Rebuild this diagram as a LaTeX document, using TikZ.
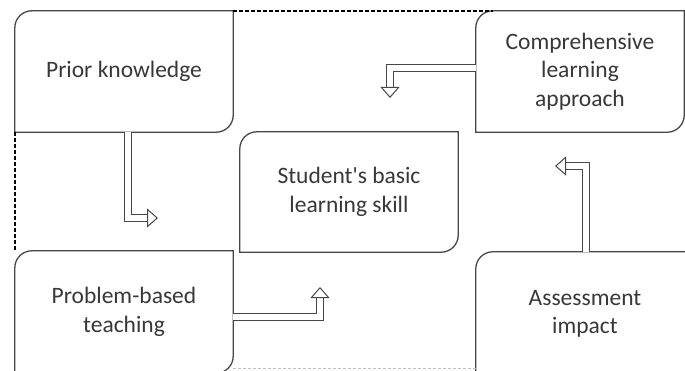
\documentclass[tikz,border=0pt]{standalone}
\usepackage{fontspec}
\setmainfont{Carlito}[Ligatures=TeXOff]
\usetikzlibrary{arrows.meta,calc}
\definecolor{edge}{HTML}{474747}
\definecolor{txt}{HTML}{383838}
\tikzset{
  box/.style={minimum width=218pt, minimum height=121pt, inner sep=0pt, align=center,
    text=txt, font=\fontsize{23.5}{28.5}\selectfont},
  boxline/.style={draw=edge, line width=1.3pt},
  dblarrow/.style={draw=edge, line width=1pt, double=white, double distance=6.5pt,
    -{Triangle[open, length=11pt, width=19pt, line width=1pt]}},
  framedash/.style={dash pattern=on 3.5pt off 2.5pt, line width=2pt, draw=black},
  framefaint/.style={dash pattern=on 3pt off 2pt, line width=1pt, draw=black!25},
}
\newcommand\cornerbox[1]{%
  \draw[boxline] (#1.north east) -- ([xshift=17pt]#1.north west)
    .. controls ([xshift=7.6pt]#1.north west) and ([yshift=-7.6pt]#1.north west)
    .. ([yshift=-17pt]#1.north west)
    -- (#1.south west) -- ([xshift=-17pt]#1.south east)
    .. controls ([xshift=-7.6pt]#1.south east) and ([yshift=7.6pt]#1.south east)
    .. ([yshift=17pt]#1.south east) -- cycle;}
\begin{document}
\begin{tikzpicture}[x=1pt,y=-1pt]
\useasboundingbox (0,0) rectangle (685,371);
\fill[white] (0,0) rectangle (685,371);
% boxes
\node[box] (pk) at (124,71.5) {Prior knowledge};
\node[box, minimum height=120pt] (sk) at (349,192) {Student's basic\\learning skill};
\node[box, minimum width=208pt] (cl) at (580,71.5) {Comprehensive\\learning\\approach};
\node[box, minimum height=122pt] (pb) at (124,312) {Problem-based\\teaching};
\node[box, minimum height=124pt] (ai) at (585,314) {Assessment\\impact};
\cornerbox{pk}
\cornerbox{sk}
\cornerbox{cl}
\cornerbox{pb}
\cornerbox{ai}
% dashed frame
\draw[framedash] (pk.north east) -- ([xshift=17pt]cl.north west);
\draw[framedash] (pk.south west) -- (pb.north west);
\coordinate (fb1) at ($(pb.south east)+(0,-5)$);
\draw[framefaint] (fb1) -- (fb1 -| ai.west);
% arrows
\coordinate (a1e) at (158,218);
\coordinate (a2e) at (320,287);
\coordinate (a3e) at (555,166);
\coordinate (a4e) at (390,98);
\draw[dblarrow] ([xshift=4pt]pk.south) |- (a1e);
\draw[dblarrow] ([yshift=-5pt]pb.east) -| (a2e);
\draw[dblarrow] ([xshift=1pt]ai.north) |- (a3e);
\draw[dblarrow] ([yshift=3.5pt]cl.west) -| (a4e);
\end{tikzpicture}
\end{document}
